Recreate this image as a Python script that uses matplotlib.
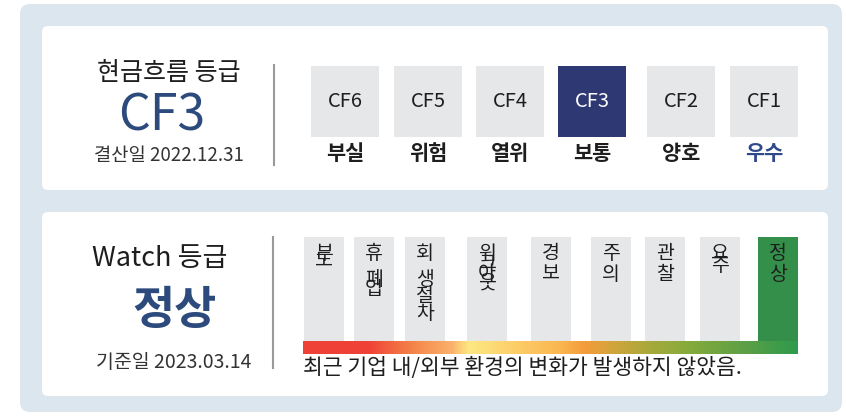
import numpy as np
import matplotlib
matplotlib.use('Agg')
import matplotlib.pyplot as plt
from matplotlib.patches import FancyBboxPatch
from matplotlib.colors import LinearSegmentedColormap

plt.rcParams['font.family'] = ['Noto Sans CJK KR', 'DejaVu Sans']

# 현금흐름 등급 데이터
cf_grades = ['CF6', 'CF5', 'CF4', 'CF3', 'CF2', 'CF1']
cf_names = ['부실', '위험', '열위', '보통', '양호', '우수']
cf_current = 'CF3'
cf_date = '결산일 2022.12.31'

# Watch 등급 데이터
watch_labels = ['부도', '휴폐업', '회생절차', '워크아웃', '경보', '주의', '관찰', '요주', '정상']
watch_current = '정상'
watch_date = '기준일 2023.03.14'
watch_comment = '최근 기업 내/외부 환경의 변화가 발생하지 않았음.'

# 레이아웃 (픽셀 좌표)
cf_x = [345, 428, 510, 592, 681, 764]
watch_x = [324, 374, 425, 487, 551, 611, 665, 720, 778]
# 세로 글자 묶음: (첫 글자 수, 겹친 나머지 줄간격) - 원본처럼 겹쳐 보이게
watch_split = [(0, 0.08), (1, 0.3), (1, 0.75), (0, 0.3), (2, 1), (2, 1), (2, 1), (0, 0.45), (2, 1)]

grey = '#e6e7e9'
navy = '#2e3872'
green = '#338f4a'
blue_txt = '#2c4a7c'
dark = '#1e1e1e'

fig = plt.figure(figsize=(8.46, 4.17), dpi=100)
ax = fig.add_axes([0, 0, 1, 1])
ax.set_xlim(0, 846)
ax.set_ylim(417, 0)
ax.axis('off')

# 배경 패널
ax.add_patch(FancyBboxPatch((20, 4), 822, 408, boxstyle='round,pad=0,rounding_size=10',
                            fc='#dbe6ef', ec='none'))
for y0, h in [(26, 164), (212, 184)]:
    ax.add_patch(FancyBboxPatch((42, y0), 786, h, boxstyle='round,pad=0,rounding_size=6',
                                fc='white', ec='none'))

# ---- 현금흐름 등급 ----
ax.text(169, 73, '현금흐름 등급', ha='center', va='center', fontsize=18, color=dark)
ax.text(162, 116, cf_current, ha='center', va='center', fontsize=36, color=blue_txt)
ax.text(169, 156, cf_date, ha='center', va='center', fontsize=13.5, color='#333333')
ax.plot([274, 274], [65, 165], color='#9a9a9a', lw=1.5)

cf_colors = [navy if g == cf_current else grey for g in cf_grades]
ax.bar(cf_x, 71, width=68, bottom=66, color=cf_colors)
for x, g, n in zip(cf_x, cf_grades, cf_names):
    ax.text(x, 101, g, ha='center', va='center', fontsize=14.5,
            color='white' if g == cf_current else dark)
    ax.text(x, 153, n, ha='center', va='center', fontsize=15, fontweight='bold',
            color='#2f4a8a' if n == '우수' else dark)

# ---- Watch 등급 ----
ax.text(160, 258, 'Watch 등급', ha='center', va='center', fontsize=19.5, color=dark)
ax.text(174, 311, watch_current, ha='center', va='center', fontsize=33,
        fontweight='bold', color=blue_txt)
ax.text(174, 362, watch_date, ha='center', va='center', fontsize=14, color='#333333')
ax.plot([273, 273], [237, 368], color='#9a9a9a', lw=1.5)

w_colors = [green if w == watch_current else grey for w in watch_labels]
ax.bar(watch_x, 104, width=40, bottom=237, color=w_colors)
for x, w, (n, ls) in zip(watch_x, watch_labels, watch_split):
    head, rest = w[:n], w[n:]
    if head:
        ax.text(x, 243, '\n'.join(head), ha='center', va='top', fontsize=14,
                linespacing=1.0, color=dark)
    if rest:
        y_rest = 243 + 26 * len(head)
        ax.text(x, y_rest, '\n'.join(rest), ha='center', va='top', fontsize=14,
                linespacing=ls, color=dark)

# 그라데이션 바
grad_colors = [(0.00, '#ef4136'), (0.13, '#ef4136'), (0.22, '#f4844a'),
               (0.30, '#fbb26c'), (0.335, '#fde882'), (0.42, '#fdd06c'),
               (0.52, '#fbb650'), (0.57, '#f39c3a'), (0.62, '#d6a43c'),
               (0.70, '#a8a93b'), (0.78, '#86ab3c'), (0.90, '#5b9f46'),
               (1.00, '#2e9a4c')]
cmap = LinearSegmentedColormap.from_list('watch', grad_colors)
ax.imshow(np.linspace(0, 1, 500)[None, :], cmap=cmap, aspect='auto',
          extent=(303, 798, 354, 341), zorder=3)
ax.set_xlim(0, 846)
ax.set_ylim(417, 0)

ax.text(303, 368, watch_comment, ha='left', va='center', fontsize=15.5, color=dark)

fig.savefig('out.png', dpi=100)
